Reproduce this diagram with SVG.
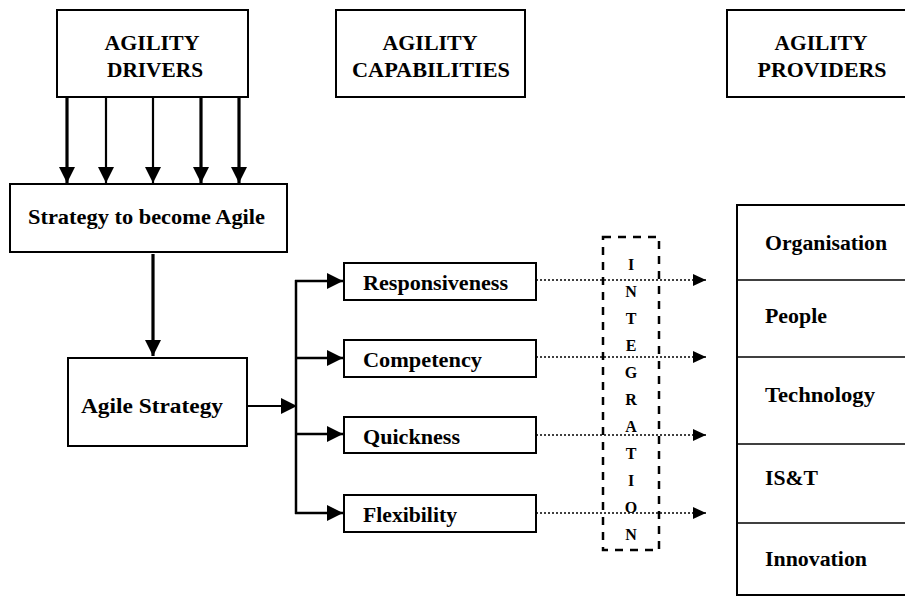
<svg xmlns="http://www.w3.org/2000/svg" width="905" height="598" viewBox="0 0 905 598">
<style>
.box{fill:#fff;stroke:#000;stroke-width:2}
.t{font-family:"Liberation Serif","Times New Roman",serif;font-weight:bold;font-size:20px;fill:#000}
.c{text-anchor:middle}
.solid{stroke:#000;fill:none}
.dot{stroke:#000;stroke-width:1.3;stroke-dasharray:2 2;fill:none}
.integ{fill:none;stroke:#000;stroke-width:2.5;stroke-dasharray:8 7}
.il{font-family:"Liberation Serif","Times New Roman",serif;font-weight:bold;font-size:16px;text-anchor:middle;fill:#000}
</style>
<defs>
<marker id="ah" markerUnits="userSpaceOnUse" markerWidth="18" markerHeight="16" refX="16" refY="8" orient="auto">
<path d="M0,0 L16,8 L0,16 Z" fill="#000"/>
</marker>
<marker id="ahs" markerUnits="userSpaceOnUse" markerWidth="14" markerHeight="12" refX="13" refY="6" orient="auto">
<path d="M0,0 L13,6 L0,12 Z" fill="#000"/>
</marker>
</defs>
<rect width="905" height="598" fill="#fff"/>

<g id="connectors">
<line class="solid" x1="67" y1="97" x2="67" y2="183" stroke-width="3.2" marker-end="url(#ah)"/>
<line class="solid" x1="106" y1="97" x2="106" y2="183" stroke-width="2.2" marker-end="url(#ah)"/>
<line class="solid" x1="153" y1="97" x2="153" y2="183" stroke-width="2.2" marker-end="url(#ah)"/>
<line class="solid" x1="201" y1="97" x2="201" y2="183" stroke-width="3.2" marker-end="url(#ah)"/>
<line class="solid" x1="239" y1="97" x2="239" y2="183" stroke-width="3.2" marker-end="url(#ah)"/>
<line class="solid" x1="153" y1="254" x2="153" y2="356" stroke-width="3.2" marker-end="url(#ah)"/>
<line class="solid" x1="247" y1="406" x2="297" y2="406" stroke-width="2" marker-end="url(#ah)"/>
<line class="solid" x1="296" y1="280" x2="296" y2="514" stroke-width="2.5"/>
<line class="solid" x1="295" y1="281" x2="343" y2="281" stroke-width="2.5" marker-end="url(#ah)"/>
<line class="solid" x1="295" y1="358" x2="343" y2="358" stroke-width="2.5" marker-end="url(#ah)"/>
<line class="solid" x1="295" y1="434" x2="343" y2="434" stroke-width="2.5" marker-end="url(#ah)"/>
<line class="solid" x1="295" y1="513" x2="343" y2="513" stroke-width="2.5" marker-end="url(#ah)"/>
<line class="dot" x1="536" y1="280" x2="706" y2="280" marker-end="url(#ahs)"/>
<line class="dot" x1="536" y1="357" x2="706" y2="357" marker-end="url(#ahs)"/>
<line class="dot" x1="536" y1="435" x2="706" y2="435" marker-end="url(#ahs)"/>
<line class="dot" x1="536" y1="513" x2="706" y2="513" marker-end="url(#ahs)"/>
</g>

<g id="drivers">
<rect class="box" x="57" y="10" width="191" height="87"/>
<text class="t c" x="152" y="50" textLength="95" lengthAdjust="spacingAndGlyphs">AGILITY</text>
<text class="t c" x="155" y="77" textLength="96" lengthAdjust="spacingAndGlyphs">DRIVERS</text>
</g>
<g id="capabilities">
<rect class="box" x="336" y="10" width="189" height="87"/>
<text class="t c" x="430" y="50" textLength="95" lengthAdjust="spacingAndGlyphs">AGILITY</text>
<text class="t c" x="431" y="77" textLength="158" lengthAdjust="spacingAndGlyphs">CAPABILITIES</text>
</g>
<g id="providers-header">
<rect class="box" x="727" y="10" width="190" height="87"/>
<text class="t c" x="821" y="50" textLength="93" lengthAdjust="spacingAndGlyphs">AGILITY</text>
<text class="t c" x="822" y="77" textLength="129" lengthAdjust="spacingAndGlyphs">PROVIDERS</text>
</g>
<g id="strategy-become">
<rect class="box" x="10" y="184" width="277" height="68"/>
<text class="t" x="28" y="224" textLength="237" lengthAdjust="spacingAndGlyphs">Strategy to become Agile</text>
</g>
<g id="agile-strategy">
<rect class="box" x="68" y="358" width="179" height="88"/>
<text class="t" x="81" y="413" textLength="142" lengthAdjust="spacingAndGlyphs">Agile Strategy</text>
</g>
<g id="responsiveness">
<rect class="box" x="344" y="263" width="192" height="37"/>
<text class="t" x="363" y="290" textLength="145" lengthAdjust="spacingAndGlyphs">Responsiveness</text>
</g>
<g id="competency">
<rect class="box" x="344" y="340" width="192" height="37"/>
<text class="t" x="363" y="367" textLength="119" lengthAdjust="spacingAndGlyphs">Competency</text>
</g>
<g id="quickness">
<rect class="box" x="344" y="417" width="192" height="36"/>
<text class="t" x="363" y="444" textLength="97" lengthAdjust="spacingAndGlyphs">Quickness</text>
</g>
<g id="flexibility">
<rect class="box" x="344" y="495" width="192" height="37"/>
<text class="t" x="363" y="522" textLength="94" lengthAdjust="spacingAndGlyphs">Flexibility</text>
</g>
<g id="integration">
<rect class="integ" x="603" y="237" width="56" height="313"/>
<text class="il" x="631" y="270">I</text>
<text class="il" x="631" y="297">N</text>
<text class="il" x="631" y="324">T</text>
<text class="il" x="631" y="351">E</text>
<text class="il" x="631" y="378">G</text>
<text class="il" x="631" y="405">R</text>
<text class="il" x="631" y="432">A</text>
<text class="il" x="631" y="459">T</text>
<text class="il" x="631" y="486">I</text>
<text class="il" x="631" y="513">O</text>
<text class="il" x="631" y="540">N</text>
</g>
<g id="providers">
<rect class="box" x="737" y="205" width="190" height="390"/>
<line class="solid" x1="737" y1="280" x2="905" y2="280" stroke-width="1.5"/>
<line class="solid" x1="737" y1="357" x2="905" y2="357" stroke-width="1.5"/>
<line class="solid" x1="737" y1="444" x2="905" y2="444" stroke-width="1.5"/>
<line class="solid" x1="737" y1="523" x2="905" y2="523" stroke-width="1.5"/>
<text class="t" x="765" y="250" textLength="122" lengthAdjust="spacingAndGlyphs">Organisation</text>
<text class="t" x="765" y="323" textLength="62" lengthAdjust="spacingAndGlyphs">People</text>
<text class="t" x="765" y="402" textLength="110" lengthAdjust="spacingAndGlyphs">Technology</text>
<text class="t" x="765" y="485" textLength="53" lengthAdjust="spacingAndGlyphs">IS&amp;T</text>
<text class="t" x="765" y="566" textLength="102" lengthAdjust="spacingAndGlyphs">Innovation</text>
</g>
</svg>
